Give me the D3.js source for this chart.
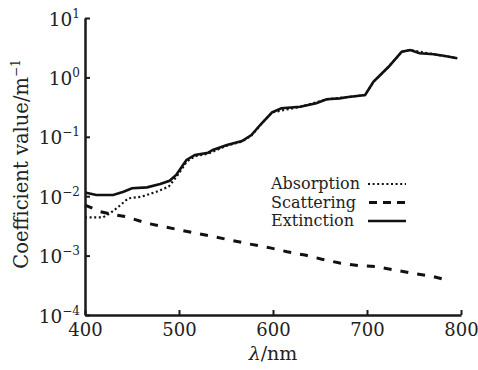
<!DOCTYPE html>
<html>
<head>
<meta charset="utf-8">
<script src="https://cdn.jsdelivr.net/npm/d3@7"></script>
<style>
  body { margin: 0; background: #fff; }
</style>
</head>
<body>
<svg class="chart" width="478" height="370"></svg>
<script>
// wavelengths (nm) and coefficient values (1/m)
var extNm  = [400, 412, 430, 441, 450, 466, 480, 490, 497, 503, 508, 517, 531, 536, 551, 567, 577, 588, 599, 609, 629, 646, 657, 671, 678, 698, 707, 723, 737, 746, 756, 771, 783, 796]
var extVal = [0.0115, 0.0105, 0.0105, 0.0119, 0.0136, 0.0141, 0.0160, 0.0182, 0.0228, 0.0314, 0.0407, 0.0494, 0.054, 0.060, 0.0728, 0.085, 0.107, 0.169, 0.258, 0.302, 0.321, 0.366, 0.428, 0.444, 0.462, 0.506, 0.848, 1.51, 2.71, 2.89, 2.55, 2.45, 2.29, 2.10]

var absNm  = [400, 419, 427, 435, 446, 460, 476, 489, 496, 503, 508, 517, 531, 551, 567, 577, 588, 599, 629, 657, 698, 707, 723, 737, 746, 771, 796]
var absVal = [0.0044, 0.0044, 0.0052, 0.0065, 0.0092, 0.0098, 0.0119, 0.0145, 0.0200, 0.0285, 0.038, 0.047, 0.052, 0.071, 0.083, 0.105, 0.167, 0.257, 0.320, 0.427, 0.505, 0.847, 1.51, 2.71, 2.89, 2.45, 2.10]

var scaNm  = [400, 416, 428, 444, 466, 501, 536, 572, 597, 615, 634, 652, 671, 691, 710, 730, 749, 769, 787]
var scaVal = [0.0071, 0.0055, 0.0050, 0.0045, 0.0035, 0.0027, 0.0021, 0.0016, 0.00135, 0.00116, 0.00102, 0.00087, 0.00075, 0.00068, 0.00065, 0.00057, 0.00050, 0.00045, 0.00038]

var xTicks = [400, 500, 600, 700, 800]
var yTicks = [1e-4, 1e-3, 1e-2, 1e-1, 1e0, 1e1]
var yExps  = ["−4", "−3", "−2", "−1", "0", "1"]

var legendNames = ["Absorption", "Scattering", "Extinction"]

var serif = "'DejaVu Serif', 'Liberation Serif', serif"

var chart = d3.select(".chart"),
    margin = {top: 18, right: 17, bottom: 55, left: 85},
    width = 478 - margin.left - margin.right,
    height = 370 - margin.top - margin.bottom

var x = d3.scaleLinear().domain([400, 800]).range([0, width])
var y = d3.scaleLog().domain([1e-4, 10]).range([height, 0])

var g = chart.append("g")
  .attr("transform", "translate(" + margin.left + "," + margin.top + ")")

function pairs(xs, ys) {
  return xs.map(function(d, i) { return [d, ys[i]] })
}

var line = d3.line()
  .x(function(d) { return x(d[0]) })
  .y(function(d) { return y(d[1]) })

var series = [
  {name: "Absorption", pts: pairs(absNm, absVal), dash: "2,2.6", w: 2.2},
  {name: "Scattering", pts: pairs(scaNm, scaVal), dash: "8,9", w: 3},
  {name: "Extinction", pts: pairs(extNm, extVal), dash: null, w: 2.6}
]

g.selectAll(".series")
    .data(series)
  .enter().append("path")
    .attr("class", "series")
    .attr("d", function(d) { return line(d.pts) })
    .attr("fill", "none")
    .attr("stroke", "#111")
    .attr("stroke-width", function(d) { return d.w })
    .attr("stroke-dasharray", function(d) { return d.dash })

// x axis
var gx = g.append("g")
  .attr("transform", "translate(0," + height + ")")
  .call(d3.axisBottom(x).tickValues(xTicks).tickSizeInner(-5).tickSizeOuter(0).tickFormat(d3.format("d")))
gx.select(".domain").attr("stroke", "#1a1a1a").attr("stroke-width", 2.5)
gx.selectAll(".tick line").attr("stroke", "#1a1a1a").attr("stroke-width", 2)
gx.selectAll("text")
  .attr("fill", "#222")
  .style("font-family", serif)
  .style("font-size", "18px")
  .attr("y", 21)
  .attr("dy", null)

// y axis
var gy = g.append("g")
  .call(d3.axisLeft(y).tickValues(yTicks).tickSizeInner(-5).tickSizeOuter(0).tickFormat(function() { return "" }))
gy.select(".domain").attr("stroke", "#1a1a1a").attr("stroke-width", 2.5)
gy.selectAll(".tick line").attr("stroke", "#1a1a1a").attr("stroke-width", 2)
gy.selectAll(".tick text").each(function(d, i) {
  var t = d3.select(this)
    .attr("x", -5)
    .attr("dy", null)
    .attr("y", 7)
    .attr("fill", "#222")
    .style("font-family", serif)
    .style("font-size", "18.5px")
  t.append("tspan").text("10")
  t.append("tspan")
    .attr("dy", -8)
    .style("font-size", "12px")
    .text(yExps[i])
})

// axis titles
g.append("text")
  .attr("x", x(600))
  .attr("y", height + 45)
  .attr("text-anchor", "middle")
  .attr("fill", "#222")
  .style("font-family", serif)
  .style("font-size", "19px")
  .call(function(t) {
    t.append("tspan").style("font-style", "italic").text("λ")
    t.append("tspan").text("/nm")
  })

chart.append("text")
  .attr("transform", "translate(28,164) rotate(-90)")
  .attr("text-anchor", "middle")
  .attr("fill", "#222")
  .style("font-family", serif)
  .style("font-size", "19.5px")
  .call(function(t) {
    t.append("tspan").text("Coefficient value/m")
    t.append("tspan").attr("dy", -8).style("font-size", "12px").text("−1")
  })

// legend
var legend = g.selectAll(".legend")
    .data(series)
  .enter().append("g")
    .attr("class", "legend")
    .attr("transform", function(d, i) { return "translate(186," + (166 + i * 18.5) + ")" })

legend.append("text")
  .attr("x", 0)
  .attr("y", 5)
  .attr("fill", "#222")
  .style("font-family", serif)
  .style("font-size", "16px")
  .text(function(d, i) { return legendNames[i] })

legend.append("line")
  .attr("x1", function(d) { return d.dash === "8,9" ? 98 : 97 })
  .attr("x2", 135)
  .attr("stroke", "#111")
  .attr("stroke-width", function(d) { return d.w })
  .attr("stroke-dasharray", function(d) { return d.dash === "8,9" ? "8,6" : d.dash })
</script>
</body>
</html>
